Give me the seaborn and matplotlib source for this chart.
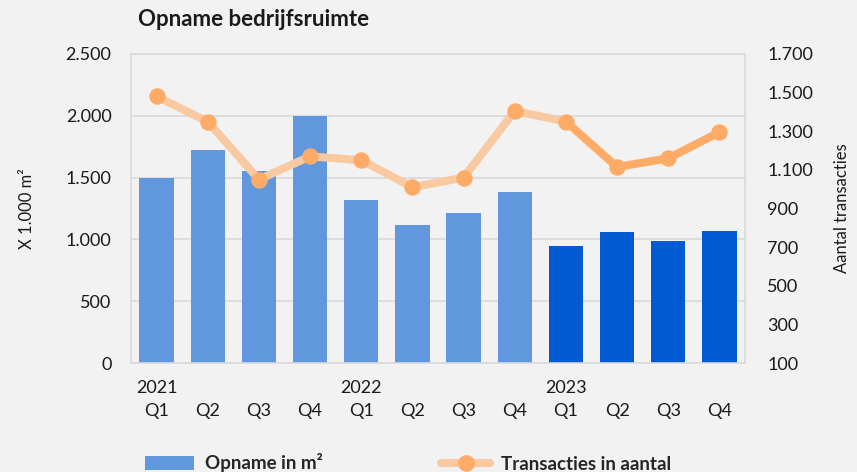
import pandas as pd
import seaborn as sns
import matplotlib.pyplot as plt
from matplotlib.patches import Patch
from matplotlib.lines import Line2D

# data
years = ['2021', '', '', '', '2022', '', '', '', '2023', '', '', '']
quarters = ['Q1', 'Q2', 'Q3', 'Q4'] * 3
opname = [1500, 1725, 1555, 2000, 1320, 1120, 1210, 1385, 950, 1060, 990, 1070]
transacties = [1480, 1350, 1050, 1170, 1150, 1010, 1060, 1405, 1350, 1115, 1160, 1295]
left_ticks = [0, 500, 1000, 1500, 2000, 2500]
left_labels = ['0', '500', '1.000', '1.500', '2.000', '2.500']
right_ticks = [100, 300, 500, 700, 900, 1100, 1300, 1500, 1700]
right_labels = ['100', '300', '500', '700', '900', '1.100', '1.300', '1.500', '1.700']

BG = '#f2f2f2'
GRID = '#d9d9d9'
BLUE_LIGHT = '#6097dd'
BLUE_DARK = '#005bd3'
ORANGE = '#ffab68'
ORANGE_LIGHT = '#f9c9a1'
TEXT = '#1a1a1a'


def main():
    sns.set_theme(style='white')
    plt.rcParams['font.family'] = ['Lato', 'DejaVu Sans']

    keys = [f'{y or "x"}{i}' for i, y in enumerate(years)]
    df = pd.DataFrame({'key': keys, 'opname': opname,
                       'transacties': transacties})
    colors = [BLUE_LIGHT] * 8 + [BLUE_DARK] * 4

    fig = plt.figure(figsize=(8.57, 4.72), dpi=100, facecolor=BG)
    ax = fig.add_axes([131 / 857, 1 - 363 / 472, (745 - 131) / 857, (363 - 54) / 472])
    ax.set_facecolor(BG)

    sns.barplot(data=df, x='key', y='opname', hue='key', palette=colors,
                legend=False, width=0.67, saturation=1, edgecolor='none',
                linewidth=0, ax=ax, zorder=2)

    ax.set_ylim(0, 2500)
    ax.set_xlim(-0.5, 11.5)
    ax.set_yticks(left_ticks)
    ax.set_yticklabels(left_labels)
    ax.set_xticks(range(12))
    ax.set_xticklabels([f'{y}\n{q}' for y, q in zip(years, quarters)],
                       linespacing=1.6)
    ax.grid(axis='y', color=GRID, linewidth=1.2, zorder=0)
    ax.set_axisbelow(True)
    for spine in ax.spines.values():
        spine.set_color(GRID)
        spine.set_linewidth(1.2)
    ax.tick_params(axis='both', length=0, labelsize=13, labelcolor=TEXT)
    ax.tick_params(axis='x', pad=12)
    ax.tick_params(axis='y', pad=14)
    ax.set_xlabel('')
    ax.set_ylabel('X 1.000 m²', fontsize=12, color=TEXT, labelpad=22)

    ax2 = ax.twinx()
    ax2.set_ylim(100, 1700)
    ax2.set_yticks(right_ticks)
    ax2.set_yticklabels(right_labels)
    ax2.grid(False)
    for spine in ax2.spines.values():
        spine.set_visible(False)
    ax2.tick_params(axis='y', length=0, labelsize=13, labelcolor=TEXT, pad=16)
    ax2.set_ylabel('Aantal transacties', fontsize=12, color=TEXT, labelpad=15)

    x = list(range(12))
    ax2.plot(x[:9], transacties[:9], color=ORANGE_LIGHT, linewidth=5.8,
             solid_capstyle='round', solid_joinstyle='round', zorder=3)
    ax2.plot(x[8:], transacties[8:], color=ORANGE, linewidth=5.8,
             solid_capstyle='round', solid_joinstyle='round', zorder=4)
    sns.scatterplot(x=x, y=transacties, color=ORANGE, s=140, linewidth=0,
                    ax=ax2, zorder=5)

    fig.text(138 / 857, 1 - 20 / 472, 'Opname bedrijfsruimte', fontsize=16,
             fontweight='bold', color=TEXT, va='center', ha='left')

    handles = [
        Patch(facecolor=BLUE_LIGHT, edgecolor='none'),
        Line2D([0], [0], color=ORANGE_LIGHT, linewidth=5.8, marker='o',
               markersize=11, markerfacecolor=ORANGE, markeredgecolor=ORANGE),
    ]
    fig.legend(handles, ['Opname in m²', 'Transacties in aantal'],
               loc='center left', bbox_to_anchor=(136 / 857, 1 - 463 / 472),
               ncol=2, frameon=False, borderpad=0, handlelength=2.6,
               handleheight=0.8, handletextpad=0.6, columnspacing=6.3,
               prop={'weight': 'bold', 'size': 13.5})

    fig.savefig('out.png', dpi=100, facecolor=BG)
    plt.close(fig)


if __name__ == '__main__':
    main()
